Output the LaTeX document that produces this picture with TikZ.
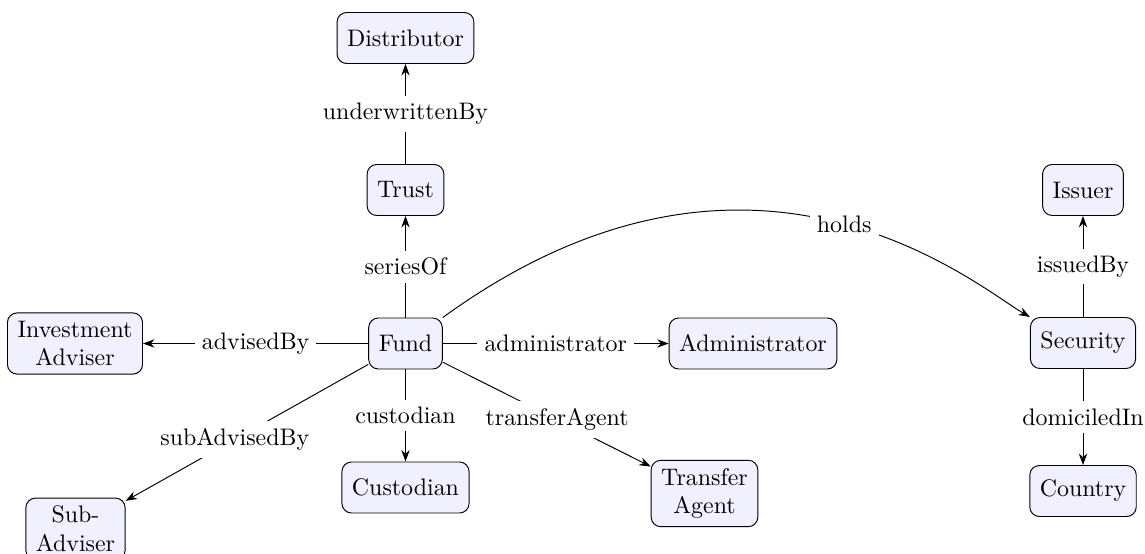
\documentclass[tikz,border=0pt]{standalone}
\usetikzlibrary{arrows.meta}
\tikzset{
  ent/.style={draw, rounded corners=4pt, fill=blue!6, minimum height=0.75cm, align=center, inner xsep=4.2pt, inner ysep=3.33pt},
  rel/.style={-{Stealth[length=4.8pt,width=3.5pt]}},
  lbl/.style={fill=white, inner sep=3pt}
}
\begin{document}
\begin{tikzpicture}[x=0.41841pt,y=-0.41841pt]
\useasboundingbox (0,0) rectangle (1145,554);
\node[ent] (dist) at (405.5,38) {Distributor};
\node[ent] (trust) at (405.5,190) {Trust};
\node[ent] (fund) at (405.5,343.5) {Fund};
\node[ent] (invadv) at (75,343.5) {Investment\\Adviser};
\node[ent] (admin) at (753,343.5) {Administrator};
\node[ent] (cust) at (405.5,487.5) {Custodian};
\node[ent] (ta) at (704.5,493.5) {Transfer\\Agent};
\node[ent] (subadv) at (75.5,529) {Sub-\\Adviser};
\node[ent] (issuer) at (1083,190) {Issuer};
\node[ent] (security) at (1083,343) {Security};
\node[ent] (country) at (1083,491) {Country};

\draw[rel] (trust) -- node[lbl]{underwrittenBy} (dist);
\draw[rel] (fund) -- node[lbl]{seriesOf} (trust);
\draw[rel] (fund) -- node[lbl]{advisedBy} (invadv);
\draw[rel] (fund) -- node[lbl]{administrator} (admin);
\draw[rel] (fund) -- node[lbl]{custodian} (cust);
\draw[rel] (fund) -- node[lbl,pos=0.55]{transferAgent} (ta);
\draw[rel] (fund) -- node[lbl,pos=0.55]{subAdvisedBy} (subadv);
\draw[rel] (security) -- node[lbl]{issuedBy} (issuer);
\draw[rel] (security) -- node[lbl]{domiciledIn} (country);
\draw[rel] (fund.north east) to[out=36,in=150,out distance=160pt,in distance=26pt] node[lbl,pos=0.52]{holds} (security.north west);
\end{tikzpicture}
\end{document}
